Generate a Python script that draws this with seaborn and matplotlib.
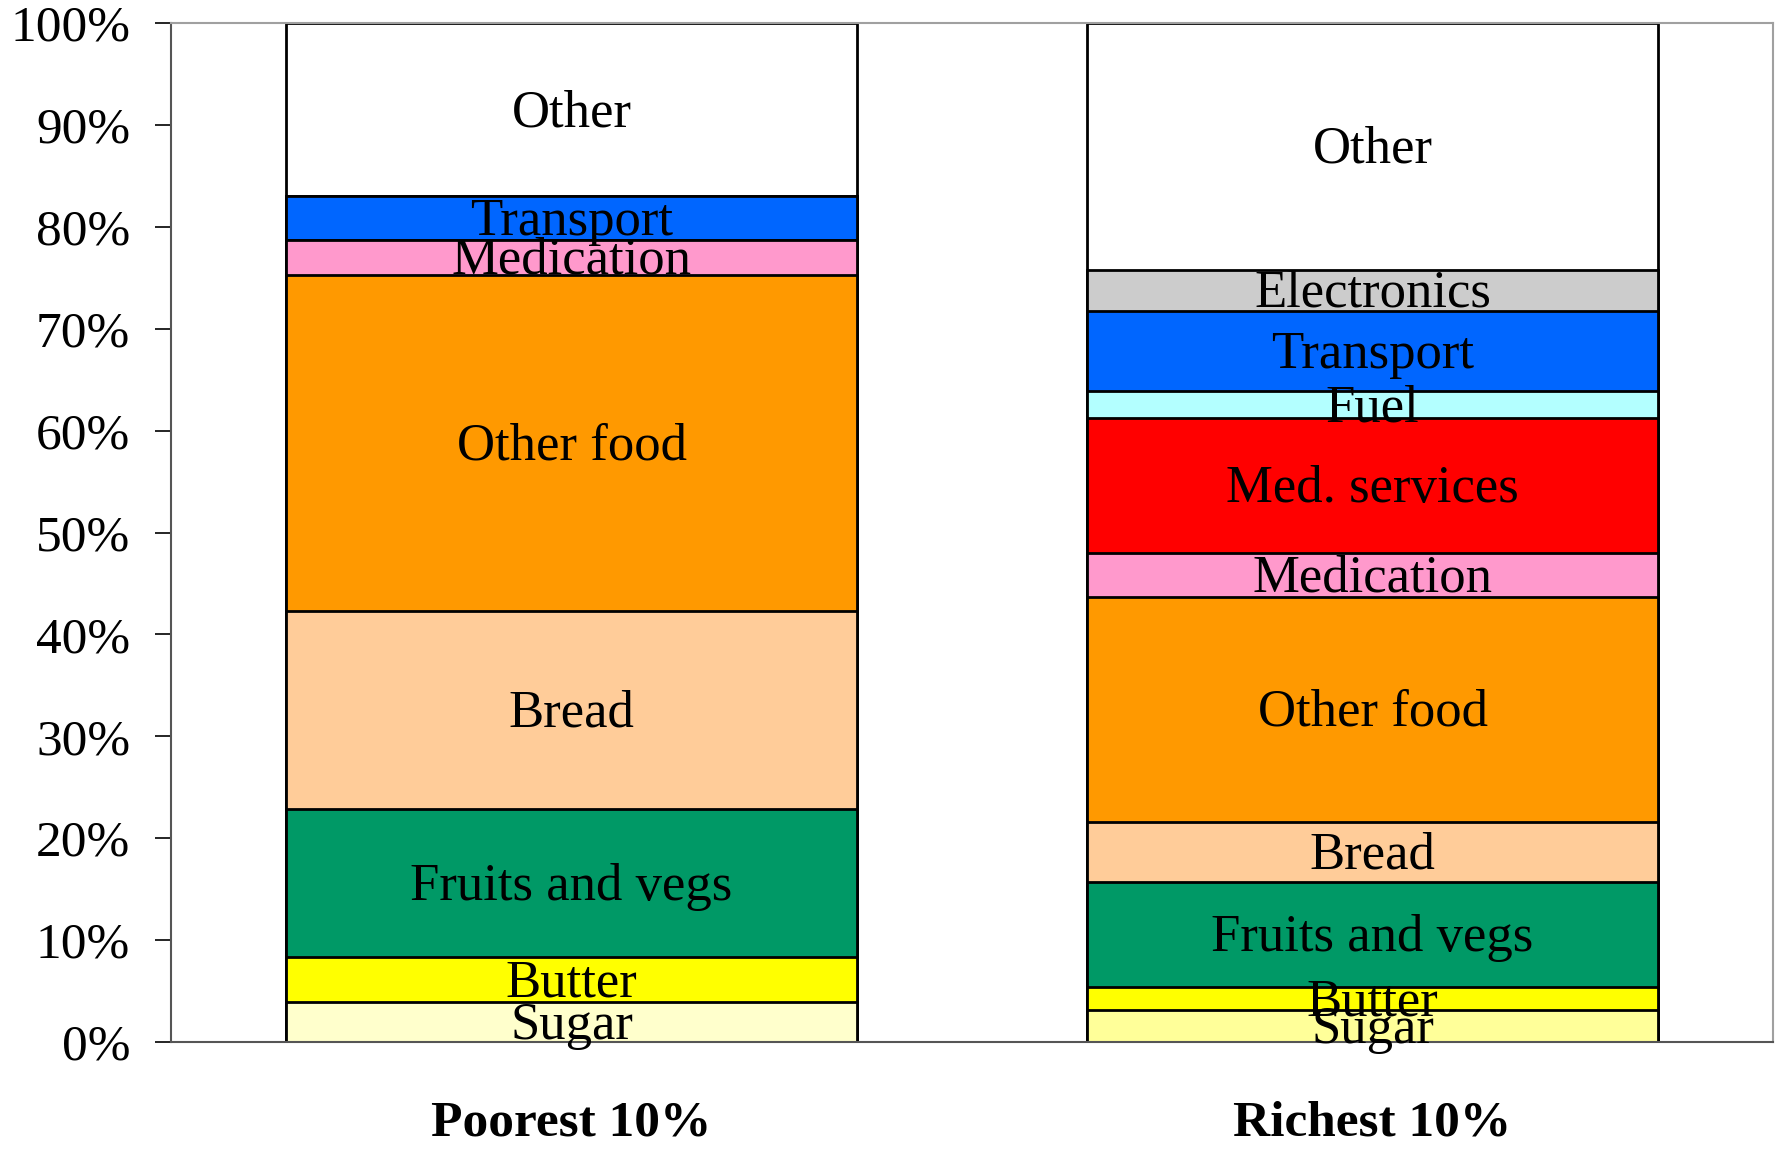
import numpy as np
import pandas as pd
import seaborn as sns
import matplotlib
matplotlib.use("Agg")
import matplotlib.pyplot as plt

# 数据：从下到上的各项支出占比（%）
groups = ["Poorest 10%", "Richest 10%"]
items = ["Sugar", "Butter", "Fruits and vegs", "Bread", "Other food",
         "Medication", "Med. services", "Fuel", "Transport", "Electronics", "Other"]
poorest = [3.9, 4.4, 14.6, 19.4, 33.0, 3.4, 0.0, 0.0, 4.3, 0.0, 17.0]
richest = [3.1, 2.3, 10.3, 5.9, 22.1, 4.3, 13.2, 2.7, 7.8, 4.1, 24.2]
yticks = [0, 10, 20, 30, 40, 50, 60, 70, 80, 90, 100]

# 每一层的颜色（穷/富）
colors = {
    "Sugar": ["#FFFFCC", "#FFFF99"],
    "Butter": ["#FFFF00", "#FFFF00"],
    "Fruits and vegs": ["#009966", "#009966"],
    "Bread": ["#FFCC99", "#FFCC99"],
    "Other food": ["#FF9900", "#FF9900"],
    "Medication": ["#FF99CC", "#FF99CC"],
    "Med. services": ["#FF0000", "#FF0000"],
    "Fuel": ["#B3FFFF", "#B3FFFF"],
    "Transport": ["#0066FF", "#0066FF"],
    "Electronics": ["#CCCCCC", "#CCCCCC"],
    "Other": ["#FFFFFF", "#FFFFFF"],
}

sns.set_style("white")
plt.rcParams['font.family'] = ['Liberation Serif', 'DejaVu Serif']
plt.rcParams['text.color'] = 'black'
plt.rcParams['xtick.color'] = 'black'
plt.rcParams['ytick.color'] = 'black'

fig = plt.figure(figsize=(17.78, 11.52), dpi=100)
ax = fig.add_axes([0.0962, 0.0955, 0.901, 0.8845])

vals = np.array([poorest, richest])
cum = vals.cumsum(axis=1)

# 叠加柱：先画最高的累计值，再往下覆盖
for i in range(len(items) - 1, -1, -1):
    df = pd.DataFrame({"group": groups, "value": cum[:, i]})
    sns.barplot(data=df, x="group", y="value", hue="group",
                palette=colors[items[i]], legend=False, width=0.713,
                edgecolor="black", linewidth=2, ax=ax, saturation=1)

# 标签
for g in range(2):
    for i, name in enumerate(items):
        v = vals[g, i]
        if v <= 0:
            continue
        mid = cum[g, i] - v / 2
        ax.annotate(name, (g, mid), xytext=(0, -2.5), textcoords="offset points",
                    ha="center", va="center", fontsize=38, color="black")

ax.set_ylim(0, 100)
ax.set_xlim(-0.5, 1.5)
ax.set_yticks(yticks)
ax.set_yticklabels([f"{t}%" for t in yticks], fontsize=37, color="black")
ax.set_xlabel("")
ax.set_ylabel("")
ax.set_xticks([0, 1])
ax.set_xticklabels(groups, fontsize=37, fontweight="bold", color="black")
ax.tick_params(axis="x", which="major", length=0, pad=42)
ax.set_xticks([-0.5, 0.5, 1.5], minor=True)
ax.tick_params(axis="x", which="minor", length=13, width=1.2, color="black", direction="out")
ax.tick_params(axis="y", length=11.5, width=1.2, color="black", direction="out", pad=18, left=True)

for s in ["left", "bottom"]:
    ax.spines[s].set_color("#555555")
    ax.spines[s].set_linewidth(1.5)
for s in ["top", "right"]:
    ax.spines[s].set_color("#A0A0A0")
    ax.spines[s].set_linewidth(1.5)
    ax.spines[s].set_visible(True)

fig.savefig("out.png", dpi=100)
